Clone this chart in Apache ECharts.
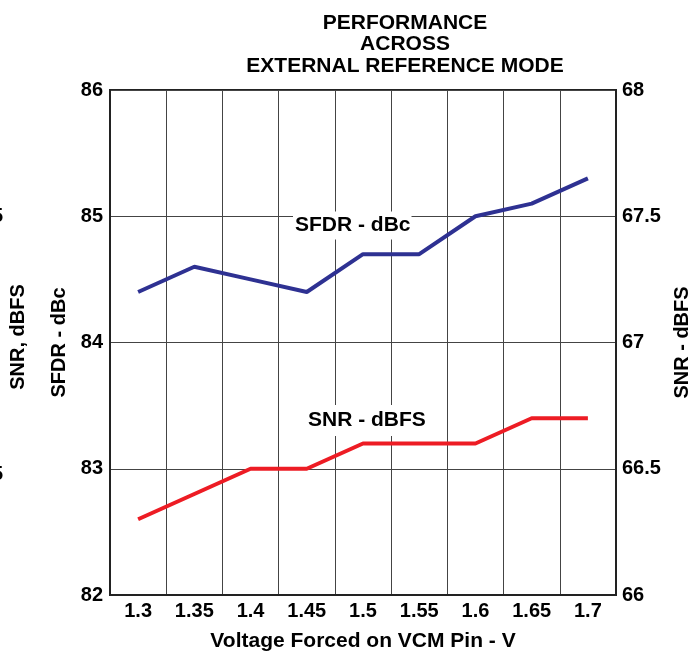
<!DOCTYPE html>
<html>
<head>
<meta charset="utf-8">
<script src="https://cdn.jsdelivr.net/npm/echarts@6/dist/echarts.min.js"></script>
<style>
html,body{margin:0;padding:0;background:#fff;}
#chart{width:700px;height:657px;}
</style>
</head>
<body>
<div id="chart"></div>
<script>
const categories = ['1.3', '1.35', '1.4', '1.45', '1.5', '1.55', '1.6', '1.65', '1.7'];
const sfdrValues = [84.4, 84.6, 84.5, 84.4, 84.7, 84.7, 85.0, 85.1, 85.3];
const snrValues = [66.3, 66.4, 66.5, 66.5, 66.6, 66.6, 66.6, 66.7, 66.7];
const titleLines = ['PERFORMANCE', 'ACROSS', 'EXTERNAL REFERENCE MODE'];
const xAxisName = 'Voltage Forced on VCM Pin - V';
const leftAxisName = 'SFDR - dBc';
const rightAxisName = 'SNR - dBFS';
const sfdrLabel = 'SFDR - dBc';
const snrLabel = 'SNR - dBFS';
const clippedAxisName = 'SNR, dBFS';

const FONT = '"Liberation Sans", Arial, Helvetica, sans-serif';
const chart = echarts.init(document.getElementById('chart'), null, {renderer: 'canvas'});

const option = {
  backgroundColor: '#ffffff',
  animation: false,
  title: {
    text: titleLines.join('\n'),
    left: 400,
    top: 7,
    textAlign: 'center',
    textStyle: {fontFamily: FONT, fontWeight: 'bold', fontSize: 21, lineHeight: 21.5, color: '#000', align: 'center'}
  },
  grid: {
    left: 110, right: 78, top: 90, bottom: 57,
    show: true, borderColor: '#222', borderWidth: 2, backgroundColor: 'transparent'
  },
  xAxis: {
    type: 'category',
    data: categories,
    boundaryGap: true,
    name: xAxisName,
    nameLocation: 'middle',
    nameGap: 36,
    nameTextStyle: {fontFamily: FONT, fontWeight: 'bold', fontSize: 21, color: '#000'},
    axisLine: {lineStyle: {color: '#222', width: 2}},
    axisTick: {show: false},
    axisLabel: {fontFamily: FONT, fontWeight: 'bold', fontSize: 20, color: '#000', margin: 6},
    splitLine: {show: true, lineStyle: {color: '#444', width: 1}}
  },
  yAxis: [
    {
      type: 'value', min: 82, max: 86, interval: 1, position: 'left',
      name: leftAxisName, nameLocation: 'middle', nameGap: 38, nameRotate: 90,
      nameTextStyle: {fontFamily: FONT, fontWeight: 'bold', fontSize: 20, color: '#000'},
      axisLine: {show: true, lineStyle: {color: '#222', width: 2}},
      axisTick: {show: false},
      axisLabel: {fontFamily: FONT, fontWeight: 'bold', fontSize: 20, color: '#000', margin: 7},
      splitLine: {show: true, lineStyle: {color: '#444', width: 1}}
    },
    {
      type: 'value', min: 66, max: 68, interval: 0.5, position: 'right',
      name: rightAxisName, nameLocation: 'middle', nameGap: 56, nameRotate: 90,
      nameTextStyle: {fontFamily: FONT, fontWeight: 'bold', fontSize: 20, color: '#000'},
      axisLine: {show: true, lineStyle: {color: '#222', width: 2}},
      axisTick: {show: false},
      axisLabel: {fontFamily: FONT, fontWeight: 'bold', fontSize: 20, color: '#000', margin: 6},
      splitLine: {show: false}
    }
  ],
  series: [
    {
      name: sfdrLabel, type: 'line', yAxisIndex: 0, data: sfdrValues,
      symbol: 'none', lineStyle: {color: '#2e3192', width: 4}, itemStyle: {color: '#2e3192'}, z: 3
    },
    {
      name: snrLabel, type: 'line', yAxisIndex: 1, data: snrValues,
      symbol: 'none', lineStyle: {color: '#ed1c24', width: 4}, itemStyle: {color: '#ed1c24'}, z: 3
    }
  ],
  graphic: [
    {
      type: 'text', x: 293, y: 225.5, z: 10,
      style: {text: sfdrLabel, font: 'bold 21px ' + FONT, fill: '#000', verticalAlign: 'middle', align: 'left',
        backgroundColor: '#fff', padding: [0, 1, 7, 2]}
    },
    {
      type: 'text', x: 306, y: 420.5, z: 10,
      style: {text: snrLabel, font: 'bold 21px ' + FONT, fill: '#000', verticalAlign: 'middle', align: 'left',
        backgroundColor: '#fff', padding: [3, 1, 7, 2]}
    },
    {
      type: 'text', x: 18.5, y: 337, rotation: Math.PI / 2,
      style: {text: clippedAxisName, font: 'bold 20px ' + FONT, fill: '#000', align: 'center', verticalAlign: 'middle'}
    },
    {
      type: 'text', x: 3, y: 216,
      style: {text: '5', font: 'bold 20px ' + FONT, fill: '#000', align: 'right', verticalAlign: 'middle'}
    },
    {
      type: 'text', x: 3, y: 474,
      style: {text: '5', font: 'bold 20px ' + FONT, fill: '#000', align: 'right', verticalAlign: 'middle'}
    }
  ]
};
chart.setOption(option);
</script>
</body>
</html>
